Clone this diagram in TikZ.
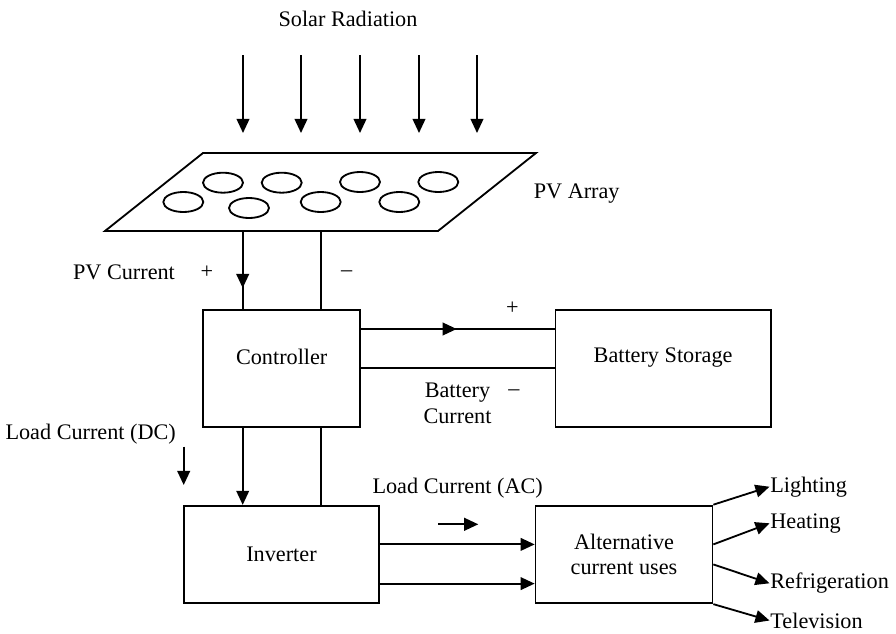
\documentclass[tikz,border=0pt]{standalone}
\usepackage{fontspec}
\setmainfont{Liberation Serif}
\usetikzlibrary{arrows.meta}
\usetikzlibrary{positioning}

\begin{document}
\begin{tikzpicture}[x=0.025cm,y=-0.025cm,->,>={Triangle[length=10pt,width=9pt]},
		line width=1.3pt,font=\fontsize{15.8}{18}\selectfont,
		main node/.style={draw,-,inner sep=0pt,align=center},
		cell/.style={-,x radius=0.5cm,y radius=0.25cm},
		tag/.style={inner sep=1pt}]

	\useasboundingbox (0,0) rectangle (896,633);

	% sun and panel
	\node[tag] (solar) at (348,19) {Solar Radiation};
	\foreach \x in {243,301,360,419,477}
		\draw (\x,55) -- (\x,133);

	\coordinate (pvtl) at (203,153);
	\coordinate (pvtr) at (536,153);
	\coordinate (pvbr) at (438,231);
	\coordinate (pvbl) at (105,231);
	\draw[-] (pvtl) -- (pvtr) -- (pvbr) -- (pvbl) -- cycle;
	\foreach \x/\y in {223/182.7,281.7/182.7,360/182,438.3/182,
			183.3/202,249/208,320.7/202,399.3/202}
		\draw[cell] (\x,\y) ellipse [];
	\node[tag] (pvarray) at (576.7,194) {PV Array};

	\coordinate (pvplus) at (242.7,231);
	\coordinate (pvminus) at (321,231);

	% blocks
	\node[main node,minimum width=3.92cm,minimum height=2.92cm,
		label={[yshift=0.29cm]center:Controller}] (Controller) at (281.7,368.3) {};
	\node[main node,minimum width=5.38cm,minimum height=2.92cm,
		label={[yshift=0.28cm]center:Battery Storage}] (Battery) at (663.1,368.3) {};
	\node[main node,minimum width=4.89cm,minimum height=2.43cm] (Inverter) at (281.5,554.4) {Inverter};
	\node[main node,minimum width=4.42cm,minimum height=2.44cm] (AC) at (624,554.4)
		{Alternative\\current uses};

	\node[anchor=west,inner sep=0pt] (lighting) at (769.5,486.7) {Lighting};
	\node[anchor=west,inner sep=0pt] (heating) at (769.5,523.3) {Heating};
	\node[anchor=west,inner sep=0pt] (fridge) at (769.5,583.3) {Refrigeration};
	\node[anchor=west,inner sep=0pt] (tv) at (769.5,620.5) {Television};

	% labels
	\node[tag] (pvcurrent) at (124,272.7) {PV Current};
	\node[tag] (pvpos) at (207,272) {+};
	\node[tag] (pvneg) at (346.7,274) {\textendash};
	\node[tag] (batpos) at (512.3,308.3) {+};
	\node[tag] (batneg) at (514,392.3) {\textendash};
	\node[tag,align=center] (batcurrent) at (457.5,403.2) {Battery\\Current};
	\node[tag] (dccurrent) at (90.7,434.3) {Load Current (DC)};
	\node[tag] (accurrent) at (457.7,488) {Load Current (AC)};

	% wiring
	\draw[-] (pvplus) -- (pvplus |- Controller.north);
	\draw (pvplus) -- ++(0,57);
	\draw[-] (pvminus) -- (pvminus |- Controller.north);

	\draw[-] ([yshift=0.98cm]Controller.east) -- ([yshift=0.98cm]Battery.west);
	\draw (418,329) -- (456.7,329);
	\draw[-] (Controller.east) -- (Battery.west);

	\draw (pvplus |- Controller.south) -- (pvplus |- Inverter.north);
	\draw[-] (pvminus |- Controller.south) -- (pvminus |- Inverter.north);
	\draw (183.7,446.7) -- (183.7,485);

	\draw ([yshift=0.25cm]Inverter.east) -- ([yshift=0.25cm]AC.west);
	\draw ([yshift=-0.73cm]Inverter.east) -- ([yshift=-0.73cm]AC.west);
	\draw (438.3,524.3) -- (478.3,524.3);

	\draw (AC.north east) -- (lighting.west);
	\draw ([yshift=0.25cm]AC.east) -- (heating.west);
	\draw ([yshift=-0.25cm]AC.east) -- (fridge.west);
	\draw (AC.south east) -- (tv.west);

\end{tikzpicture}
\end{document}
